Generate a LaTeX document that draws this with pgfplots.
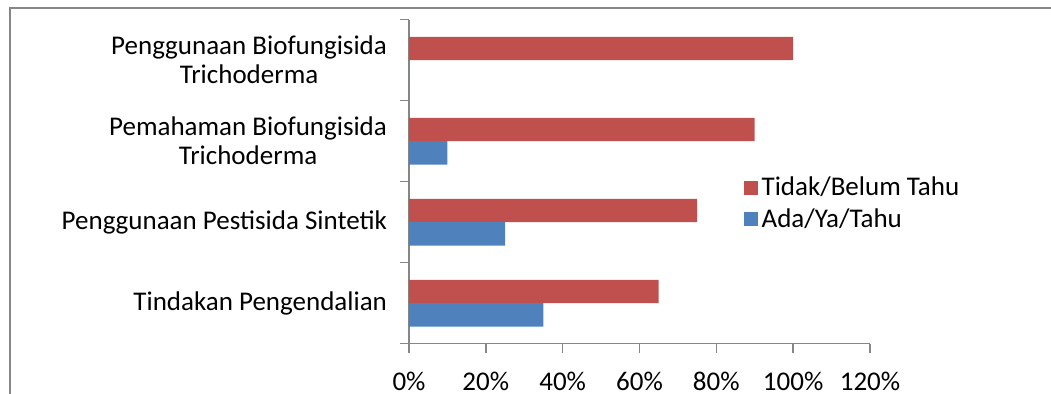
\documentclass[border=0pt]{standalone}
\usepackage{pgfplots}
\pgfplotsset{compat=1.18}
\usepackage{fontspec}
\setmainfont{Carlito}
\definecolor{cred}{HTML}{C0504D}
\definecolor{cblue}{HTML}{4F81BD}
\definecolor{axgray}{HTML}{868686}
\begin{document}
\begin{tikzpicture}
\useasboundingbox (0,0) rectangle (525.5pt,197pt);
\draw[axgray,line width=0.8pt] (5pt,-10pt) -- (5pt,193pt) -- (540pt,193pt);
\begin{axis}[
  at={(204.5pt,25.15pt)}, anchor=south west,
  scale only axis, width=230.5pt, height=162pt,
  xbar, bar width=11.67pt,
  xmin=0, xmax=1.2, ymin=-0.5, ymax=3.5,
  axis x line*=bottom, axis y line*=left,
  axis line style={axgray, line width=0.8pt},
  xtick={0,0.2,0.4,0.6,0.8,1.0,1.2},
  xticklabels={0\%,20\%,40\%,60\%,80\%,100\%,120\%},
  ytick={-0.5,0.5,1.5,2.5,3.5},
  yticklabels={},
  extra y ticks={0,1,2,3},
  extra y tick labels={Tindakan Pengendalian, Penggunaan Pestisida Sintetik, Pemahaman Biofungisida\\Trichoderma, Penggunaan Biofungisida\\Trichoderma},
  extra y tick style={tick style={draw=none},
    yticklabel style={align=center, font=\fontsize{13.5}{14.5}\selectfont, xshift=-3pt}},
  xticklabel style={font=\fontsize{13.5}{14.5}\selectfont, yshift=-6pt},
  y tick style={axgray, line width=0.8pt},
  x tick style={axgray, line width=0.8pt},
  major tick length=4.5pt, tick align=outside,
  legend image code/.code={\fill[#1] (0pt,-3.5pt) rectangle (7pt,3.5pt);},
  legend style={at={(0.712,0.541)}, anchor=north west, draw=none, fill=none,
    font=\fontsize{13.5}{14.5}\selectfont, row sep=1pt},
  legend cell align=left,
]
\addplot[fill=cred, draw=none, bar shift=5.83pt] coordinates {(0.65,0) (0.75,1) (0.90,2) (1.00,3)};
\addlegendentry{Tidak/Belum Tahu}
\addplot[fill=cblue, draw=none, bar shift=-5.83pt] coordinates {(0.35,0) (0.25,1) (0.10,2) (0,3)};
\addlegendentry{Ada/Ya/Tahu}
\end{axis}
\end{tikzpicture}
\end{document}
